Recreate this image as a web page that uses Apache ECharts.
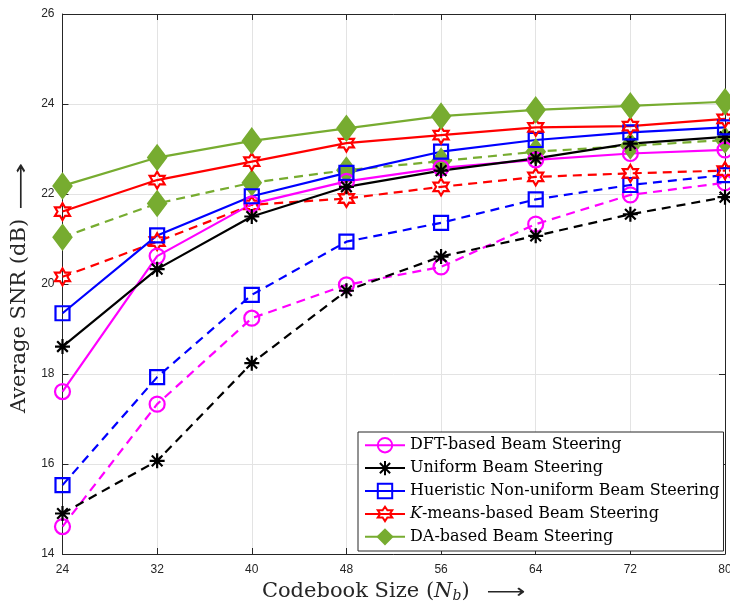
<!DOCTYPE html>
<html>
<head>
<meta charset="utf-8">
<script src="https://cdn.jsdelivr.net/npm/echarts@6/dist/echarts.min.js"></script>
<style>
	html, body { margin: 0; padding: 0; background: #fff; }
	#chart { width: 730px; height: 603px; }
</style>
</head>
<body>
<div id="chart"></div>
<script>
	// codebook sizes
	var codebookSizes = [24, 32, 40, 48, 56, 64, 72, 80];
	var yTicks = [14, 16, 18, 20, 22, 24, 26];

	// solid curves
	var dftSolid = [17.61, 20.62, 21.78, 22.28, 22.58, 22.76, 22.90, 22.98];
	var uniformSolid = [18.61, 20.33, 21.50, 22.16, 22.52, 22.79, 23.12, 23.27];
	var heuristicSolid = [19.35, 21.08, 21.95, 22.47, 22.94, 23.20, 23.37, 23.48];
	var kmeansSolid = [21.61, 22.31, 22.72, 23.13, 23.31, 23.48, 23.51, 23.67];
	var daSolid = [22.18, 22.81, 23.18, 23.46, 23.73, 23.87, 23.96, 24.05];

	// dashed curves
	var dftDashed = [14.61, 17.33, 19.24, 19.98, 20.38, 21.33, 21.98, 22.25];
	var uniformDashed = [14.90, 16.07, 18.24, 19.85, 20.61, 21.07, 21.55, 21.93];
	var heuristicDashed = [15.53, 17.93, 19.76, 20.94, 21.36, 21.88, 22.20, 22.42];
	var kmeansDashed = [20.16, 20.94, 21.76, 21.90, 22.16, 22.38, 22.46, 22.52];
	var daDashed = [21.04, 21.79, 22.25, 22.53, 22.73, 22.94, 23.07, 23.20];

	var legendNames = ['DFT-based Beam Steering', 'Uniform Beam Steering',
		'Hueristic Non-uniform Beam Steering', 'K-means-based Beam Steering', 'DA-based Beam Steering'];

	var serifFont = 'DejaVu Serif';
	var sansFont = 'Liberation Sans';

	// marker paths
	var asteriskPath = 'path://M0,-100L0,100M-100,0L100,0M-71,-71L71,71M-71,71L71,-71';
	var hexagramPath = 'path://M0,-100L28.9,-50L86.6,-50L57.7,0L86.6,50L28.9,50L0,100L-28.9,50L-86.6,50L-57.7,0L-86.6,-50L-28.9,-50Z';

	function toPoints(vals) {
		var pts = [];
		for (var i = 0; i < codebookSizes.length; i++) {
			pts.push([codebookSizes[i], vals[i]]);
		}
		return pts;
	}

	var styles = [
		{ color: '#ff00ff', symbol: 'circle', size: 15, fill: 'transparent' },
		{ color: '#000000', symbol: asteriskPath, size: 15, fill: 'transparent' },
		{ color: '#0000ff', symbol: 'rect', size: 14, fill: 'transparent' },
		{ color: '#ff0000', symbol: hexagramPath, size: [15, 17], fill: 'transparent' },
		{ color: '#77ac30', symbol: 'diamond', size: [18, 24], fill: '#77ac30' }
	];

	function makeSeries(name, vals, st, dashed) {
		return {
			name: name,
			type: 'line',
			data: toPoints(vals),
			symbol: st.symbol,
			symbolSize: st.size,
			showAllSymbol: true,
			silent: true,
			lineStyle: { color: st.color, width: 2.2, type: dashed ? [9, 6] : 'solid' },
			itemStyle: { color: st.fill, borderColor: st.color, borderWidth: 2.2 },
			emphasis: { disabled: true },
			animation: false
		};
	}

	var solidVals = [dftSolid, uniformSolid, heuristicSolid, kmeansSolid, daSolid];
	var dashedVals = [dftDashed, uniformDashed, heuristicDashed, kmeansDashed, daDashed];

	var series = [];
	for (var i = 0; i < 5; i++) {
		series.push(makeSeries(legendNames[i] + ' (dashed)', dashedVals[i], styles[i], true));
	}
	for (var j = 0; j < 5; j++) {
		series.push(makeSeries(legendNames[j], solidVals[j], styles[j], false));
	}

	var axisLineStyle = { color: '#262626', width: 1 };

	var option = {
		backgroundColor: '#ffffff',
		animation: false,
		grid: { left: 62.5, top: 14, right: 5, bottom: 49, containLabel: false, outerBoundsMode: 'none' },
		// long arrows after the axis titles
		graphic: [{
			type: 'text',
			x: 506,
			y: 593,
			scaleX: 1.36,
			silent: true,
			style: { text: '\u27F6', font: '20px "DejaVu Sans"', fill: '#262626', align: 'center', verticalAlign: 'middle' }
		}, {
			type: 'text',
			x: 22,
			y: 186,
			rotation: Math.PI / 2,
			scaleX: 1.65,
			silent: true,
			style: { text: '\u27F6', font: '20px "DejaVu Sans"', fill: '#262626', align: 'center', verticalAlign: 'middle' }
		}],
		legend: {
			data: legendNames,
			orient: 'vertical',
			left: 358,
			top: 432,
			padding: [5, 4, 6, 6],
			itemGap: 6.5,
			itemWidth: 40,
			itemHeight: 18,
			backgroundColor: '#ffffff',
			borderColor: '#262626',
			borderWidth: 1,
			textStyle: {
				fontFamily: serifFont,
				fontSize: 16,
				color: '#000',
				rich: {
					i: { fontFamily: serifFont, fontSize: 16, fontStyle: 'italic', color: '#000' }
				}
			},
			formatter: function(name) {
				if (name.indexOf('K-') === 0) {
					return '{i|K}-means-based Beam Steering';
				}
				return name;
			}
		},
		xAxis: [{
			type: 'value',
			min: 24,
			max: 80,
			interval: 8,
			position: 'bottom',
			name: '{n|Codebook Size (}{i|N}{s|b}{n|)}',
			nameLocation: 'middle',
			nameGap: 24,
			nameTextStyle: {
				padding: [0, 56, 0, 0],
				rich: {
					n: { fontFamily: serifFont, fontSize: 21, color: '#262626' },
					i: { fontFamily: serifFont, fontSize: 21, fontStyle: 'italic', color: '#262626' },
					s: { fontFamily: serifFont, fontSize: 14, fontStyle: 'italic', color: '#262626', padding: [10, 0, 0, 0] }
				}
			},
			axisLine: { show: true, lineStyle: axisLineStyle },
			axisTick: { show: true, inside: true, length: 6, lineStyle: axisLineStyle },
			axisLabel: { fontFamily: sansFont, fontSize: 12, color: '#262626', margin: 10 },
			splitLine: { show: true, lineStyle: { color: '#e3e3e3', width: 1 } }
		}, {
			type: 'value',
			min: 24,
			max: 80,
			interval: 8,
			position: 'top',
			axisLine: { show: true, lineStyle: axisLineStyle },
			axisTick: { show: true, inside: true, length: 6, lineStyle: axisLineStyle },
			axisLabel: { show: false },
			splitLine: { show: false }
		}],
		yAxis: [{
			type: 'value',
			min: 14,
			max: 26,
			interval: 2,
			position: 'left',
			name: 'Average SNR (dB)',
			nameLocation: 'middle',
			nameRotate: 90,
			nameGap: 27,
			nameTextStyle: { fontFamily: serifFont, fontSize: 21, color: '#262626', padding: [0, 64, 0, 0] },
			axisLine: { show: true, lineStyle: axisLineStyle },
			axisTick: { show: true, inside: true, length: 6, lineStyle: axisLineStyle },
			axisLabel: { fontFamily: sansFont, fontSize: 12, color: '#262626', margin: 8 },
			splitLine: { show: true, lineStyle: { color: '#e3e3e3', width: 1 } }
		}, {
			type: 'value',
			min: 14,
			max: 26,
			interval: 2,
			position: 'right',
			axisLine: { show: true, lineStyle: axisLineStyle },
			axisTick: { show: true, inside: true, length: 6, lineStyle: axisLineStyle },
			axisLabel: { show: false },
			splitLine: { show: false }
		}],
		series: series
	};

	echarts.init(document.getElementById('chart')).setOption(option);
</script>
</body>
</html>
